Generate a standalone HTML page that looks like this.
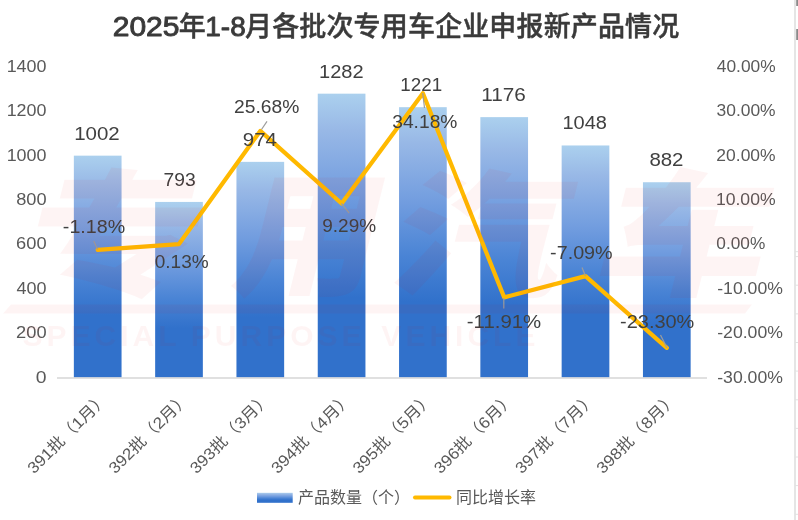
<!DOCTYPE html>
<html lang="zh-CN"><head><meta charset="utf-8"><title>2025年1-8月各批次专用车企业申报新产品情况</title>
<style>html,body{margin:0;padding:0;background:#fff;}body{width:798px;height:520px;overflow:hidden;}svg{display:block;}text{font-family:"Liberation Sans","Noto Sans CJK SC",sans-serif;}</style></head><body>
<svg width="798" height="520" viewBox="0 0 798 520">
<defs><linearGradient id="g" x1="0" y1="0" x2="0" y2="1"><stop offset="0" stop-color="#abd0ee"/><stop offset="0.13" stop-color="#98b8e6"/><stop offset="0.35" stop-color="#729ddf"/><stop offset="0.55" stop-color="#4a84d5"/><stop offset="0.72" stop-color="#3171cb"/><stop offset="1" stop-color="#3171cb"/></linearGradient>
</defs>
<rect width="798" height="520" fill="#fff"/>
<text transform="translate(112.70,36.30) scale(1.1120,1)" font-size="27" fill="#3a3a3a" stroke="#3a3a3a" stroke-width="0.9" stroke-linejoin="round">2025</text>
<text x="192.25" y="36.3" text-anchor="middle" font-size="27" font-weight="500" fill="#3a3a3a" stroke="#3a3a3a" stroke-width="0.45" stroke-linejoin="round">年</text>
<text transform="translate(205.30,36.30) scale(1.0359,1)" font-size="27" fill="#3a3a3a" stroke="#3a3a3a" stroke-width="0.9" stroke-linejoin="round">1-8</text>
<text x="245" y="36.3" font-size="27" font-weight="500" letter-spacing="0.15" fill="#3a3a3a" stroke="#3a3a3a" stroke-width="0.45" stroke-linejoin="round">月各批次专用车企业申报新产品情况</text>
<text transform="translate(35.83,382.50) scale(1.1738,1)" font-size="16.5" fill="#595959">0</text>
<text transform="translate(16.09,338.16) scale(1.1082,1)" font-size="16.5" fill="#595959">200</text>
<text transform="translate(16.55,293.82) scale(1.0909,1)" font-size="16.5" fill="#595959">400</text>
<text transform="translate(16.09,249.48) scale(1.1082,1)" font-size="16.5" fill="#595959">600</text>
<text transform="translate(16.18,205.14) scale(1.1047,1)" font-size="16.5" fill="#595959">800</text>
<text transform="translate(6.66,160.80) scale(1.0857,1)" font-size="16.5" fill="#595959">1000</text>
<text transform="translate(6.66,116.46) scale(1.0857,1)" font-size="16.5" fill="#595959">1200</text>
<text transform="translate(6.66,72.12) scale(1.0857,1)" font-size="16.5" fill="#595959">1400</text>
<text transform="translate(717.21,382.50) scale(1.0691,1)" font-size="16.5" fill="#595959">-30.00%</text>
<text transform="translate(717.21,338.16) scale(1.0691,1)" font-size="16.5" fill="#595959">-20.00%</text>
<text transform="translate(717.21,293.82) scale(1.0691,1)" font-size="16.5" fill="#595959">-10.00%</text>
<text transform="translate(716.31,249.48) scale(1.0474,1)" font-size="16.5" fill="#595959">0.00%</text>
<text transform="translate(715.88,205.14) scale(1.0682,1)" font-size="16.5" fill="#595959">10.00%</text>
<text transform="translate(716.33,160.80) scale(1.0601,1)" font-size="16.5" fill="#595959">20.00%</text>
<text transform="translate(716.50,116.46) scale(1.0570,1)" font-size="16.5" fill="#595959">30.00%</text>
<text transform="translate(716.77,72.12) scale(1.0522,1)" font-size="16.5" fill="#595959">40.00%</text>
<rect x="73.85" y="155.66" width="47.70" height="221.84" fill="url(#g)"/>
<rect x="155.15" y="201.93" width="47.70" height="175.57" fill="url(#g)"/>
<rect x="236.45" y="161.86" width="47.70" height="215.64" fill="url(#g)"/>
<rect x="317.75" y="93.67" width="47.70" height="283.83" fill="url(#g)"/>
<rect x="399.05" y="107.17" width="47.70" height="270.33" fill="url(#g)"/>
<rect x="480.35" y="117.13" width="47.70" height="260.37" fill="url(#g)"/>
<rect x="561.65" y="145.47" width="47.70" height="232.03" fill="url(#g)"/>
<rect x="642.95" y="182.23" width="47.70" height="195.27" fill="url(#g)"/>
<line x1="57" y1="378" x2="707" y2="378" stroke="#d6d6d6" stroke-width="1.3"/>
<polyline points="97.7,249.9 179.0,244.1 260.3,130.9 341.6,203.5 422.9,93.3 504.2,297.4 585.5,276.1 666.8,347.8" fill="none" stroke="#ffb900" stroke-width="4.2" stroke-linejoin="round" stroke-linecap="round"/>
<text transform="translate(74.21,139.66) scale(1.1068,1)" font-size="18.5" fill="#404040">1002</text>
<text transform="translate(163.54,185.93) scale(1.0432,1)" font-size="18.5" fill="#404040">793</text>
<text transform="translate(242.83,145.86) scale(1.1049,1)" font-size="18.5" fill="#404040">974</text>
<text transform="translate(319.00,77.67) scale(1.0837,1)" font-size="18.5" fill="#404040">1282</text>
<text transform="translate(400.29,91.17) scale(1.0167,1)" font-size="18.5" fill="#404040">1221</text>
<text transform="translate(481.14,101.13) scale(1.1210,1)" font-size="18.5" fill="#404040">1176</text>
<text transform="translate(562.50,129.47) scale(1.0811,1)" font-size="18.5" fill="#404040">1048</text>
<text transform="translate(649.38,166.23) scale(1.1052,1)" font-size="18.5" fill="#404040">882</text>
<line x1="93.75" y1="241" x2="97.5" y2="249.5" stroke="#9c9c9c" stroke-width="1.2"/>
<line x1="267" y1="121.3" x2="261.5" y2="129.5" stroke="#9c9c9c" stroke-width="1.2"/>
<line x1="341.5" y1="203.5" x2="349.2" y2="213" stroke="#9c9c9c" stroke-width="1.2"/>
<line x1="422.7" y1="93" x2="424.5" y2="108" stroke="#9c9c9c" stroke-width="1.2"/>
<line x1="503.8" y1="298" x2="503.8" y2="308.6" stroke="#9c9c9c" stroke-width="1.2"/>
<line x1="585.5" y1="276" x2="582" y2="267.5" stroke="#9c9c9c" stroke-width="1.2"/>
<line x1="667" y1="348" x2="660.5" y2="335" stroke="#9c9c9c" stroke-width="1.2"/>
<text transform="translate(62.87,232.50) scale(1.0627,1)" font-size="18.5" fill="#404040">-1.18%</text>
<text transform="translate(154.74,268.00) scale(1.0282,1)" font-size="18.5" fill="#404040">0.13%</text>
<text transform="translate(234.04,112.50) scale(1.0411,1)" font-size="18.5" fill="#404040">25.68%</text>
<text transform="translate(322.25,232.30) scale(1.0261,1)" font-size="18.5" fill="#404040">9.29%</text>
<text transform="translate(392.23,128.20) scale(1.0387,1)" font-size="18.5" fill="#404040">34.18%</text>
<text transform="translate(466.78,327.80) scale(1.1023,1)" font-size="18.5" fill="#404040">-11.91%</text>
<text transform="translate(550.11,259.30) scale(1.0671,1)" font-size="18.5" fill="#404040">-7.09%</text>
<text transform="translate(620.10,327.80) scale(1.0781,1)" font-size="18.5" fill="#404040">-23.30%</text>
<text transform="translate(109.2,399.2) rotate(-45) scale(1.07,1)" text-anchor="end" font-size="16" fill="#595959">391批（1月）</text>
<text transform="translate(190.5,399.2) rotate(-45) scale(1.07,1)" text-anchor="end" font-size="16" fill="#595959">392批（2月）</text>
<text transform="translate(271.8,399.2) rotate(-45) scale(1.07,1)" text-anchor="end" font-size="16" fill="#595959">393批（3月）</text>
<text transform="translate(353.1,399.2) rotate(-45) scale(1.07,1)" text-anchor="end" font-size="16" fill="#595959">394批（4月）</text>
<text transform="translate(434.4,399.2) rotate(-45) scale(1.07,1)" text-anchor="end" font-size="16" fill="#595959">395批（5月）</text>
<text transform="translate(515.7,399.2) rotate(-45) scale(1.07,1)" text-anchor="end" font-size="16" fill="#595959">396批（6月）</text>
<text transform="translate(597.0,399.2) rotate(-45) scale(1.07,1)" text-anchor="end" font-size="16" fill="#595959">397批（7月）</text>
<text transform="translate(678.3,399.2) rotate(-45) scale(1.07,1)" text-anchor="end" font-size="16" fill="#595959">398批（8月）</text>
<rect x="257" y="492.8" width="35.7" height="10" fill="url(#g)"/>
<text x="298" y="502.6" font-size="16" fill="#595959">产品数量（个）</text>
<line x1="415" y1="497.5" x2="449.5" y2="497.5" stroke="#ffb900" stroke-width="4" stroke-linecap="round"/>
<text x="456" y="502.6" font-size="16" fill="#595959">同比增长率</text>
<g fill="rgba(235,0,0,0.042)">
<text transform="translate(15.0,285) skewX(-14) scale(1.3,1)" font-size="136" font-weight="900">专</text>
<text transform="translate(228.6,285) skewX(-14) scale(1.05,1)" font-size="136" font-weight="900">用</text>
<text transform="translate(384.2,285) skewX(-14) scale(1.27,1)" font-size="136" font-weight="900">汽</text>
<text transform="translate(590.4,285) skewX(-14) scale(1.25,1)" font-size="136" font-weight="900">车</text>
<polygon points="3,313.5 11,304.5 752,304.5 745,313.5"/>
<text x="22.5" y="346" font-size="30" font-weight="bold" letter-spacing="4">SPECIAL<tspan dx="-1.5"> PURPOSE</tspan><tspan dx="3.5"> VEHICLE</tspan></text>
</g>
<line x1="795" y1="0" x2="795" y2="520" stroke="#d4d4d4" stroke-width="1.2"/>
<line x1="795" y1="251.7" x2="798" y2="251.7" stroke="#e2e2e2" stroke-width="1"/>
<line x1="795" y1="256.6" x2="798" y2="256.6" stroke="#e2e2e2" stroke-width="1"/>
<line x1="795" y1="285.2" x2="798" y2="285.2" stroke="#e2e2e2" stroke-width="1"/>
<line x1="795" y1="313.9" x2="798" y2="313.9" stroke="#e2e2e2" stroke-width="1"/>
<line x1="795" y1="342.5" x2="798" y2="342.5" stroke="#e2e2e2" stroke-width="1"/>
<line x1="795" y1="371.1" x2="798" y2="371.1" stroke="#e2e2e2" stroke-width="1"/>
<line x1="795" y1="399.8" x2="798" y2="399.8" stroke="#e2e2e2" stroke-width="1"/>
<line x1="795" y1="428.4" x2="798" y2="428.4" stroke="#e2e2e2" stroke-width="1"/>
<line x1="795" y1="457.0" x2="798" y2="457.0" stroke="#e2e2e2" stroke-width="1"/>
<line x1="795" y1="485.6" x2="798" y2="485.6" stroke="#e2e2e2" stroke-width="1"/>
<line x1="795" y1="514.3" x2="798" y2="514.3" stroke="#e2e2e2" stroke-width="1"/>
<rect x="796.2" y="0" width="1.8" height="6" fill="#8a8a8a"/><rect x="796.2" y="29" width="1.8" height="11" fill="#8a8a8a"/>
</svg></body></html>
